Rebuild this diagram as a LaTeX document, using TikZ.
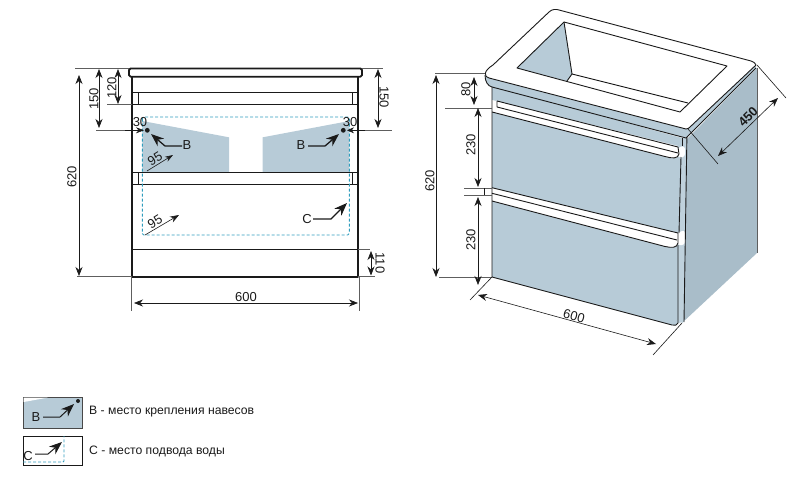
\documentclass[tikz,border=0pt]{standalone}
\usepackage{fontspec}
\setmainfont{Liberation Sans}
\usetikzlibrary{arrows.meta}
\definecolor{steel}{HTML}{B7CBD7}
\definecolor{sidec}{HTML}{A9BDC9}
\definecolor{striplight}{HTML}{BFD1DC}
\definecolor{cyanl}{HTML}{2F9DBD}
\definecolor{ink}{HTML}{1A1A1A}
\definecolor{ext}{HTML}{5E5E5E}
\tikzset{
  x=1pt,y=-1pt,
  every node/.style={font=\fontsize{13}{13}\selectfont,inner sep=0pt,text=ink},
  body/.style={draw=ink,line width=1.8pt,line join=round},
  railline/.style={draw=ink,line width=1.3pt},
  outline/.style={draw=ink,line width=0.9pt,line join=round},
  extline/.style={draw=ext,line width=0.8pt},
  dim/.style={draw=ink,line width=0.6pt,{Stealth[length=9pt,width=7pt]}-{Stealth[length=9pt,width=7pt]}},
  smalldim/.style={draw=ink,line width=0.6pt,-{Stealth[length=8pt,width=5.5pt]}},
  leader/.style={draw=ink,line width=1.3pt,line join=round,-{Stealth[length=13pt,width=10pt]}},
  hidden/.style={draw=cyanl,line width=0.9pt,dash pattern=on 3pt off 2pt},
  legend/.style={font=\fontsize{12.2}{12.2}\selectfont,anchor=west},
}
\begin{document}
\begin{tikzpicture}
\useasboundingbox (0,0) rectangle (795,503);
% ===== FRONT VIEW =====
\fill[steel] (142.3,121) -- (229,137.3) -- (229,172.7) -- (142.3,172.7) -- cycle;
\fill[steel] (262.7,137.3) -- (349.3,121) -- (349.3,172.7) -- (262.7,172.7) -- cycle;
\draw[body,rounded corners=1.5pt] (129,68.5) rectangle (362,76.7);
\draw[body] (132,76.7) -- (132,276.7) -- (358,276.7) -- (358,76.7);
\draw[railline] (132,92.7) -- (358,92.7) (132,104.3) -- (358,104.3)
  (138.3,92.7) -- (138.3,104.3) (352.3,92.7) -- (352.3,104.3);
\draw[railline] (132,172.7) -- (358,172.7) (132,184.3) -- (358,184.3)
  (138.3,172.7) -- (138.3,184.3) (352.3,172.7) -- (352.3,184.3);
\draw[railline] (132,249.3) -- (358,249.3);
\draw[hidden,rounded corners=1.5pt] (142.3,117) rectangle (349.3,235);
\fill[ink] (147.3,130.3) circle (2.4) (343.3,130.3) circle (2.4);
% extension lines
\draw[extline] (75,68.5) -- (129,68.5) (77,276.7) -- (132,276.7);
\draw[extline] (96,130.3) -- (142,130.3) (107,104.3) -- (132,104.3);
\draw[extline] (362,68.5) -- (383,68.5) (352,130.3) -- (392,130.3);
\draw[extline] (358,249.3) -- (370,249.3) (358,276.7) -- (375,276.7);
\draw[extline] (131,277) -- (131,311) (359,277) -- (359,311);
% dimensions
\draw[dim] (79,75) -- (79,276);
\draw[dim] (99,69) -- (99,128);
\draw[dim] (118,69) -- (118,104);
\draw[dim] (378,69) -- (378,128);
\draw[dim] (371,251) -- (371,275.5);
\draw[dim] (134,303) -- (358,303);
\draw[draw=ink,line width=0.6pt,-{Stealth[length=8pt,width=6pt]}] (125,130.3) -- (144,130.3);
\draw[draw=ink,line width=0.6pt,-{Stealth[length=7pt,width=6pt]}] (365,130.3) -- (347,130.3);
\node[rotate=90] at (72,177) {620};
\node[rotate=90] at (94,99) {150};
\node[rotate=90] at (112,88) {120};
\node[rotate=-90] at (384,97) {150};
\node[rotate=-90] at (380,263) {110};
\node at (246,297) {600};
\node at (140,122) {30};
\node at (350,122) {30};
\node[rotate=32] at (155,159) {95};
\node[rotate=32] at (155,222) {95};
\draw[smalldim] (147,171) -- (173,155);
\draw[smalldim,-{Stealth[length=9pt,width=6.5pt]}] (145,235) -- (179,215);
\node at (187,145) {B};
\draw[leader] (182,146) -- (165,146) -- (151,134);
\node at (301,145) {B};
\draw[leader] (308,146) -- (325,146) -- (339,134);
\node at (307,219) {C};
\draw[leader] (313,219) -- (331,219) -- (347,203);
% ===== PERSPECTIVE VIEW =====
% side panel and its edges
\fill[sidec] (687,139) -- (757,68) -- (757,253) -- (682,323) -- cycle;
\draw[extline] (757,68) -- (757,253);
% narrow strip between front and side
\fill[striplight] (678,138) -- (687,138) -- (684,322) -- (678,323) -- cycle;
% front faces
\fill[steel] (492,86) -- (682,138) -- (682,146) -- (681,157) -- (678,245) -- (678,323)
  .. controls (677,325) and (675,326) .. (672,325) -- (492,277) -- cycle;
\fill[white] (492,100) -- (678,146) -- (678,154) .. controls (678,159) and (672,159) .. (665,156.5) -- (492,112) -- cycle;
\fill[white] (492,187.7) -- (678,233) -- (678,242) .. controls (678,248) and (672,248) .. (665,246.5) -- (492,201) -- cycle;
\fill[white,rounded corners=3pt] (678,147) -- (685,146) -- (685,157) -- (678,158) -- cycle;
\fill[white,rounded corners=3pt] (677,233) -- (685,230) -- (685,245) -- (677,245) -- cycle;
\draw[outline] (492,86) -- (492,277) -- (672,325) .. controls (675,326) and (677,325) .. (678,323) -- (678,245);
\draw[outline] (687,130) -- (684,322);
\draw[outline] (682,138) -- (682,146);
\draw[outline] (681,157) -- (679,233);
\draw[outline] (497,101) -- (678,147) (497,107) -- (678,153) (497,101) -- (497,107);
\draw[outline] (492,112) -- (665,156.5) .. controls (672,158.5) and (678,159) .. (679,154) -- (678,147);
\draw[outline] (492,187.7) -- (678,233);
\draw[outline] (492,193.3) -- (677,240);
\draw[outline] (492,201) -- (665,246.5) .. controls (672,248) and (677,248) .. (678,243) -- (678,233);
% slab front and side
\fill[steel] (485,72) -- (485,77) .. controls (486,83) and (489,86) .. (492,87) -- (686,138) -- (689,135) -- (756,68) -- (755,62) -- (688,128) -- cycle;
\draw[outline] (485,75) .. controls (485,82) and (488,86) .. (492,87) -- (686,138) -- (689,135) -- (756,68);
\draw[outline,fill=white] (493,65) -- (549,12) .. controls (552,9) and (556,9) .. (559,10) -- (751,61)
  .. controls (754,62) and (755,63) .. (756,65) -- (690,127) .. controls (689,128) and (688,129) .. (686,129)
  -- (489,78) .. controls (484,77) and (483,71) .. (493,65) -- cycle;
% basin
\fill[steel] (564,22) -- (572,74) -- (567,81) -- (517,68) -- cycle;
\draw[outline] (564,22) -- (727,66) -- (680,112) -- (517,68) -- cycle;
\draw[outline] (564,22) -- (572,74) -- (688,103);
\draw[outline] (572,74) -- (567,81);
% dims
\draw[extline] (435,73) -- (485,73) (439,277) -- (492,277) (445,108) -- (492,108);
\draw[extline] (464,188) -- (492,188) (464,195) -- (492,195);
\draw[draw=ink,line width=0.6pt] (484,188) -- (484,195);
\draw[draw=ink,line width=0.6pt] (492,277) -- (470,300) (682,323) -- (653,355);
\draw[draw=ink,line width=0.6pt] (757,65) -- (786,98) (688,129) -- (718,164);
\draw[dim] (436,75) -- (436,277);
\draw[dim] (474,77) -- (474,105);
\draw[dim] (478,108) -- (478,187);
\draw[dim] (478,197) -- (478,285);
\draw[dim] (478,295) -- (656,344);
\draw[dim] (718,156) -- (778,98);
\node[rotate=90] at (430,181) {620};
\node[rotate=90] at (466,89) {80};
\node[rotate=90] at (471,145) {230};
\node[rotate=90] at (471,240) {230};
\node[rotate=-15] at (574,316) {600};
\node[rotate=45,font=\fontsize{13}{13}\bfseries] at (748,117) {450};
% ===== LEGEND =====
\draw[fill=steel,draw=ink!80,line width=1pt] (23,397) rectangle (82,428);
\fill[white] (23.6,397.6) -- (48,397.6) -- (23.6,402) -- cycle;
\fill[ink] (78,401) circle (2);
\node at (36,417) {B};
\draw[leader,line width=1pt] (43,417) -- (60,417) -- (74,404);
\node[legend] at (89,412) {В - место крепления навесов};
\draw[draw=ink,line width=1pt] (23,436) rectangle (82,465);
\draw[hidden,rounded corners=1pt] (23,462) -- (64,462) -- (64,436);
\node at (28,456) {C};
\draw[leader,line width=1pt] (35,454) -- (48,454) -- (62,442);
\node[legend] at (89,451) {С - место подвода воды};
\end{tikzpicture}
\end{document}
